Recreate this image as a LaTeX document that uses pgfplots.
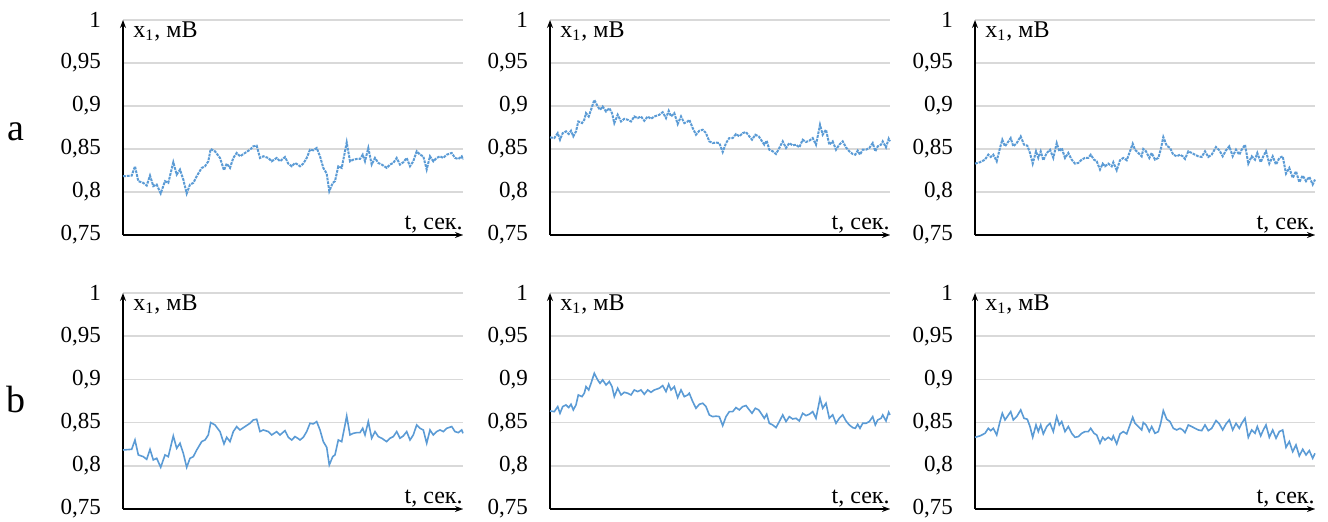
\documentclass[border=0pt]{standalone}
\usepackage{pgfplots}
\pgfplotsset{compat=1.18}
\usepackage{pgfplotstable}
\usepackage{fontspec}
\setmainfont{Liberation Serif}
\usetikzlibrary{arrows.meta}

\definecolor{sig}{HTML}{5B9BD5}
\definecolor{gridc}{HTML}{D9D9D9}

% signal 1 (left panels)
\pgfplotstableread{
x y
0 0.8183
8.7 0.8191
12 0.8299
15.3 0.8126
20.3 0.8106
23.7 0.8075
27 0.8191
30.3 0.8068
33.7 0.8087
37.7 0.7983
42 0.8126
45.3 0.8106
50.3 0.8346
53.7 0.8203
57 0.8261
60.3 0.8145
63.7 0.7983
67 0.8087
70.3 0.8106
73.7 0.8183
78.7 0.828
82 0.8299
85.3 0.8357
87.7 0.85
92 0.8473
97 0.8396
101 0.8253
103.7 0.833
107 0.828
110.3 0.8396
113.7 0.8454
117 0.8415
122 0.8454
127 0.8492
130.3 0.8531
133.7 0.8539
137 0.8396
140.3 0.8415
145.3 0.8396
148.7 0.8357
153.7 0.8396
157 0.8357
162 0.8407
165.3 0.833
168.7 0.8299
172 0.8338
174.7 0.8319
177 0.8299
180.3 0.833
183.7 0.8396
187 0.8492
190.3 0.8485
193.7 0.8512
197 0.8415
200.3 0.828
203.7 0.8214
206.3 0.801
209.7 0.8106
212 0.8126
215.3 0.8299
218.7 0.828
222 0.8473
223.7 0.8577
227 0.8357
230.3 0.8376
233.7 0.8384
237 0.8384
239.7 0.8434
242 0.8357
245.3 0.8512
248.7 0.8319
252 0.8396
255.3 0.8338
258.7 0.8319
263.7 0.828
267 0.8319
270.3 0.8338
273.7 0.8396
277 0.8319
280.3 0.8346
283.7 0.8396
287 0.8299
290.3 0.8357
293.7 0.8473
297 0.8434
300.3 0.8415
303.7 0.8261
307 0.8415
310.3 0.8357
313.7 0.8396
317 0.8415
320.3 0.8396
323.7 0.8434
328.7 0.8454
332 0.8396
335.3 0.8384
338.7 0.8415
340 0.8376
}\sigA

% signal 2 (middle panels)
\pgfplotstableread{
x y
0 0.8635
4.3 0.8627
7.7 0.8685
10 0.8608
12.7 0.8685
16 0.8705
18.7 0.8674
21 0.8712
23.3 0.8647
26 0.8705
28.3 0.882
32 0.8801
34.3 0.884
36 0.8917
38.7 0.8878
41 0.8955
44.3 0.9071
47.7 0.8994
50 0.8955
52.7 0.8994
56 0.8936
59.3 0.8975
62 0.8917
64.3 0.8801
67.7 0.8898
71 0.882
74.3 0.8851
77.7 0.884
81 0.882
84.3 0.8878
87.7 0.8859
91 0.8878
94.3 0.8828
97.7 0.8878
101 0.8851
104.3 0.8878
109.3 0.8898
112.7 0.8928
116 0.8859
118.7 0.8944
121 0.8878
124.3 0.8917
127.7 0.879
131 0.8878
134.3 0.8801
137.7 0.882
139.3 0.884
142.7 0.8743
146 0.8666
149.3 0.8712
152.7 0.8724
156 0.8685
159.3 0.8589
162.7 0.8569
166 0.8575
169.3 0.8569
172.7 0.8465
176 0.8569
179.3 0.8627
182.7 0.8627
186 0.8674
189.3 0.8647
192.7 0.8685
196 0.8697
199.3 0.8647
202 0.8608
205.3 0.8666
208.7 0.8647
211 0.8608
214.3 0.855
216.7 0.8597
219.3 0.8492
222.7 0.8473
226 0.8442
229.3 0.8512
232.7 0.8589
236 0.8512
239.3 0.8569
242.7 0.8542
246 0.855
249.3 0.8519
252.7 0.8608
256 0.8581
259.3 0.8597
262.7 0.8627
266 0.855
268.7 0.8705
270 0.8782
272.7 0.8666
276 0.8724
279.3 0.855
282.7 0.8589
286 0.8492
289.3 0.855
292.7 0.8589
296 0.8519
299.3 0.8473
302.7 0.8442
305.3 0.8434
307.7 0.8481
310 0.8434
312.7 0.8492
316 0.8492
319.3 0.8512
322.7 0.8569
325.3 0.8473
327.7 0.8531
331 0.855
332.7 0.8589
336 0.8519
338.7 0.862
340 0.8589
}\sigB

% signal 3 (right panels)
\pgfplotstableread{
x y
0 0.833
5 0.8346
10 0.8376
13.3 0.8434
15.7 0.8407
18.3 0.8434
21.7 0.8357
25 0.8512
27.3 0.8608
30 0.8531
32.3 0.8569
35.7 0.8627
38.3 0.8531
41.7 0.8569
45.7 0.8647
49 0.855
52.3 0.8539
55 0.8454
57.7 0.833
61 0.8473
63.3 0.8396
65.7 0.8473
68.3 0.8369
71.7 0.8454
75 0.8492
78.3 0.8396
81.7 0.8569
84.3 0.8473
86.7 0.8512
90 0.8396
93.3 0.8454
96.7 0.8376
100 0.833
103.3 0.8338
106.7 0.8376
110 0.8396
113.3 0.8396
115.7 0.8434
119 0.8376
121.7 0.8357
125 0.8261
127.7 0.833
130 0.8299
133.3 0.833
136.7 0.8299
138.3 0.8346
141.7 0.8253
145 0.8369
148.3 0.8396
151.7 0.8369
155 0.8473
157.7 0.8562
160 0.8492
163.3 0.8454
166.7 0.8415
168.3 0.85
171 0.8473
174.3 0.8396
176.7 0.8454
180 0.8376
183.3 0.8396
185.7 0.8492
188.3 0.8639
191.7 0.8539
195 0.8512
198.3 0.8434
201.7 0.8415
205 0.8434
207.7 0.8415
210 0.8384
213.3 0.8473
216.7 0.8454
220 0.8434
223.3 0.8415
226.7 0.8407
230 0.8473
233.3 0.8407
236.7 0.8434
241 0.8523
244.3 0.8485
247.7 0.8415
251 0.8485
254.3 0.8531
257.7 0.8415
261 0.8492
264.3 0.8434
266.7 0.8492
270 0.855
273.3 0.833
276.7 0.8415
280 0.8376
282.3 0.8454
285.7 0.8346
288.3 0.8415
291 0.8473
294.3 0.833
297.7 0.8415
301 0.8319
304.3 0.8396
307.7 0.8415
311 0.8214
314.3 0.828
317.7 0.8164
321 0.8241
324.3 0.8114
327.7 0.8191
331 0.8126
334.3 0.8176
337.7 0.8087
340 0.8145
}\sigC

\pgfplotsset{
  panel/.style={
    anchor=south west,
    scale only axis,
    width=170pt,
    height=108pt,
    xmin=0, xmax=340,
    ymin=0.75, ymax=1,
    axis x line=bottom,
    axis y line=left,
    axis line style={line width=0.9pt, -{Stealth[length=4pt,width=3pt]}},
    xtick=\empty,
    ytick={0.75,0.8,0.85,0.9,0.95,1},
    yticklabels={{0,75},{0,8},{0,85},{0,9},{0,95},{1}},
    major tick length=0pt,
    ymajorgrids,
    grid style={gridc, line width=0.8pt},
    tick label style={font=\fontsize{11.5}{13}\selectfont},
    yticklabel style={xshift=-7.5pt},
    clip=false,
  },
  dots/.style={sig, line width=1pt, dash pattern=on 1.4pt off 0.5pt},
  solid line/.style={sig, line width=0.8pt},
}

\newcommand{\axlabels}{%
  \node[anchor=north west, inner sep=0pt, font=\fontsize{12}{14}\selectfont]
    at (rel axis cs:0,1) [xshift=5pt, yshift=-0.5pt] {x\textsubscript{1}, мВ};
  \node[anchor=base east, inner sep=0pt, font=\fontsize{12}{14}\selectfont]
    at (rel axis cs:1,0) [yshift=3pt] {t, сек.};
}

\begin{document}
\begin{tikzpicture}
\path[use as bounding box] (0pt,0pt) rectangle (664pt,260.5pt);
% row a
\begin{axis}[panel, at={(61.5pt,143pt)}, height=107.5pt]
  \addplot[dots] table {\sigA};
  \axlabels
  \node[anchor=base, inner sep=0pt, font=\fontsize{19}{21}\selectfont]
    at (rel axis cs:0,0.44) [xshift=-53.5pt] {a};
\end{axis}
\begin{axis}[panel, at={(275pt,143pt)}, height=107.5pt]
  \addplot[dots] table {\sigB};
  \axlabels
\end{axis}
\begin{axis}[panel, at={(487.5pt,143pt)}, height=107.5pt]
  \addplot[dots] table {\sigC};
  \axlabels
\end{axis}
% row b
\begin{axis}[panel, at={(61.5pt,6pt)}]
  \addplot[solid line] table {\sigA};
  \axlabels
  \node[anchor=base, inner sep=0pt, font=\fontsize{19}{21}\selectfont]
    at (rel axis cs:0,0.449) [xshift=-53.5pt] {b};
\end{axis}
\begin{axis}[panel, at={(275pt,6pt)}]
  \addplot[solid line] table {\sigB};
  \axlabels
\end{axis}
\begin{axis}[panel, at={(487.5pt,6pt)}]
  \addplot[solid line] table {\sigC};
  \axlabels
\end{axis}
\end{tikzpicture}
\end{document}
